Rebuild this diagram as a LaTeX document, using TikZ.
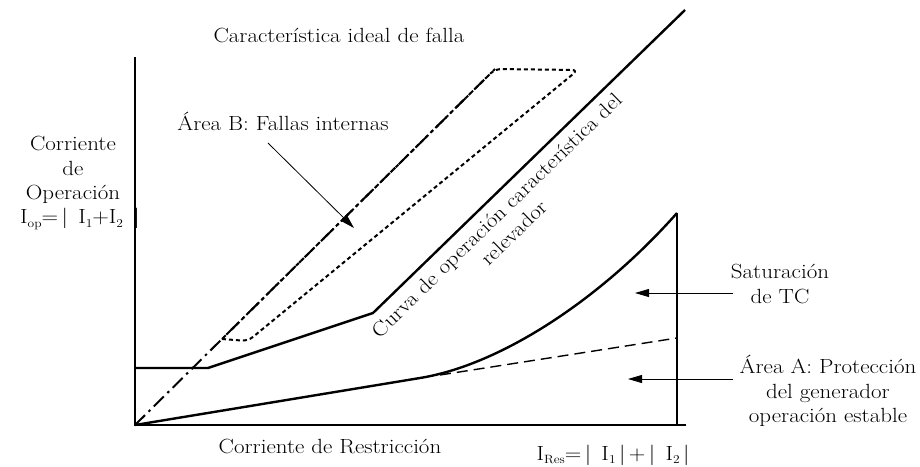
\documentclass[tikz,border=0pt]{standalone}
\usepackage{fontspec}
\setmainfont{Latin Modern Roman}[FakeStretch=1.12]
\usetikzlibrary{arrows.meta}
\begin{document}
\begin{tikzpicture}[x=1pt,y=-1pt,
  lbl/.style={font=\fontsize{20.5}{24.5}\selectfont, inner sep=0pt, align=center},
  axis/.style={line width=2.6pt},
  curve/.style={line width=2.4pt},
  ideal/.style={line width=2pt, dash pattern=on 14pt off 5pt on 2.5pt off 5pt},
  dotline/.style={line width=2pt, dash pattern=on 4pt off 3pt},
  dashline/.style={line width=1.4pt, dash pattern=on 11pt off 6pt},
  pointer/.style={line width=0.8pt, -{Triangle[length=14pt,width=8pt]}}]
\useasboundingbox (0,0) rectangle (920,466);
% coordinates
\coordinate (O) at (135,425);
\coordinate (Ytop) at (135,57);
\coordinate (Xend) at (686,425);
\coordinate (Rtop) at (677,213);
\coordinate (Rbot) at (677,425);
\coordinate (I1) at (222,339);
\coordinate (I2) at (495,69);
\coordinate (D1) at (248,341);
\coordinate (D2) at (578,70);
\coordinate (C0) at (135,368);
\coordinate (C1) at (208,368);
\coordinate (C2) at (373,313);
\coordinate (C3) at (685,10);
\coordinate (L1) at (420,378);
\coordinate (Q1) at (440,375);
\coordinate (Q2) at (677,338);
% axes
\draw[axis] (Ytop) -- (O) -- (Xend);
\draw[axis] (Rtop) -- (Rbot);
% ideal characteristic
\draw[ideal] (O) -- (I2);
\draw[dotline, rounded corners=6pt] (I1) -- (D1) -- (D2) -- (I2) -- (I1);
% relay operating curve
\draw[curve] (C0) -- (C1) -- (C2) -- (C3);
% lower curve
\draw[curve] (O) -- (L1) .. controls (500,365) and (600,300) .. (Rtop);
\draw[dashline] (Q1) -- (Q2);
% labels
\node[lbl] (tIdeal) at (339,35) {Característica ideal de falla};
\node[lbl] (tB) at (283,121) {Área B: Fallas internas};
\node[lbl] (tOp) at (73,170) {Corriente\\de\\Operación};
\node[lbl] (tIop) at (80,219) {I\raisebox{-0.35ex}{\fontsize{12}{14}\selectfont op}=\,|\, I\raisebox{-0.35ex}{\fontsize{12}{14}\selectfont 1}+I\raisebox{-0.35ex}{\fontsize{12}{14}\selectfont 2}\, |};
\node[lbl] (tRes) at (330,446) {Corriente de Restricción};
\node[lbl] (tIres) at (613,455) {I\raisebox{-0.35ex}{\fontsize{12}{14}\selectfont Res}=\,|\, I\raisebox{-0.35ex}{\fontsize{12}{14}\selectfont 1}\,|\,+\,|\, I\raisebox{-0.35ex}{\fontsize{12}{14}\selectfont 2}\,|};
\node[lbl] (tSat) at (780,284) {Saturación\\de TC};
\node[lbl] (tA) at (828,391) {Área A: Protección\\del generador\\operación estable};
\node[lbl, rotate=44.3] (tCurva) at (505,224) {Curva de operación característica del\\relevador};
% pointers
\coordinate (pS) at (733,293);
\coordinate (pA) at (733,379);
\coordinate (pB) at (268,143);
\draw[pointer] (pS) -- (635,293);
\draw[pointer] (pA) -- (628,379);
\draw[pointer] (pB) -- (354,228);
\end{tikzpicture}
\end{document}
